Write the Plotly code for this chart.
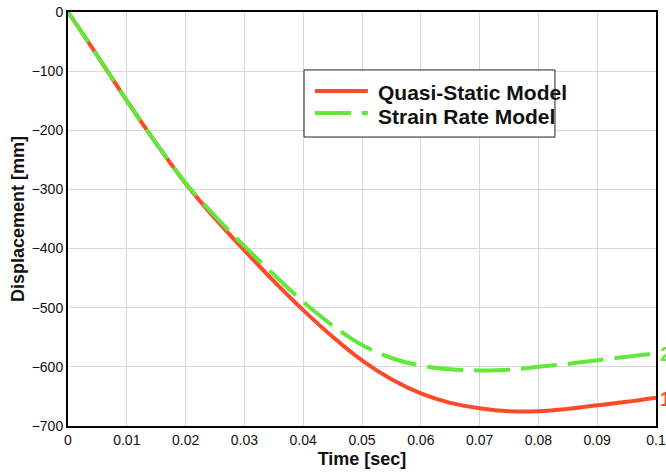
import plotly.graph_objects as go

time_s = [0, 0.005, 0.01, 0.015, 0.02, 0.025, 0.03, 0.035, 0.04, 0.045, 0.05,
          0.055, 0.06, 0.065, 0.07, 0.075, 0.08, 0.085, 0.09, 0.095, 0.1]
quasi_static = [0, -74, -150, -222, -290, -349, -403, -455, -504, -549, -589,
                -621, -645, -661, -670, -675, -675, -671, -665, -659, -652]
strain_rate = [0, -74, -150, -222, -289, -345, -396, -444, -490, -530, -563,
               -585, -598, -604, -606, -605, -600, -595, -589, -583, -577]

series_names = ["Quasi-Static Model", "Strain Rate Model"]
end_labels = ["1", "2"]

x_ticks = [0, 0.01, 0.02, 0.03, 0.04, 0.05, 0.06, 0.07, 0.08, 0.09, 0.1]
x_tick_labels = ["0", "0.01", "0.02", "0.03", "0.04", "0.05", "0.06", "0.07", "0.08", "0.09", "0.1"]
y_ticks = [0, -100, -200, -300, -400, -500, -600, -700]

RED = "#ff4a2a"
GREEN = "#62e83a"
FONT = "Liberation Sans, Arial, sans-serif"
DASH = "36px,11px"

fig = go.Figure()
fig.add_trace(go.Scatter(x=time_s, y=quasi_static, mode="lines", name=series_names[0],
                         showlegend=False,
                         line=dict(color=RED, width=4, shape="spline")))
fig.add_trace(go.Scatter(x=time_s, y=strain_rate, mode="lines", name=series_names[1],
                         showlegend=False,
                         line=dict(color=GREEN, width=4, dash=DASH, shape="spline")))

# end-of-curve labels
fig.add_annotation(x=time_s[-1], y=quasi_static[-1], text="<b>" + end_labels[0] + "</b>",
                   showarrow=False, xanchor="left", xshift=2, yshift=-1,
                   font=dict(family=FONT, size=20, color=RED))
fig.add_annotation(x=time_s[-1], y=strain_rate[-1], text="<b>" + end_labels[1] + "</b>",
                   showarrow=False, xanchor="left", xshift=2, yshift=-1,
                   font=dict(family=FONT, size=20, color=GREEN))

# manual legend (paper coordinates)
fig.add_shape(type="rect", xref="paper", yref="paper", x0=0.4014, x1=0.8282, y0=0.698, y1=0.860,
              line=dict(color="#222", width=1), fillcolor="white", layer="above")
fig.add_shape(type="line", xref="paper", yref="paper", x0=0.420, x1=0.510, y0=0.809, y1=0.809,
              line=dict(color=RED, width=4), layer="above")
fig.add_shape(type="line", xref="paper", yref="paper", x0=0.420, x1=0.510, y0=0.756, y1=0.756,
              line=dict(color=GREEN, width=4, dash=DASH), layer="above")
fig.add_annotation(xref="paper", yref="paper", x=0.524, y=0.806, text="<b>" + series_names[0] + "</b>",
                   showarrow=False, xanchor="left", yanchor="middle",
                   font=dict(family=FONT, size=21, color="#111"))
fig.add_annotation(xref="paper", yref="paper", x=0.524, y=0.748, text="<b>" + series_names[1] + "</b>",
                   showarrow=False, xanchor="left", yanchor="middle",
                   font=dict(family=FONT, size=21, color="#111"))

fig.update_layout(
    width=666, height=473,
    margin=dict(l=68, r=10, t=12, b=47),
    paper_bgcolor="white", plot_bgcolor="white",
    font=dict(family=FONT, size=14, color="#111"),
    showlegend=False,
    xaxis=dict(range=[0, 0.1], tickvals=x_ticks, ticktext=x_tick_labels,
               automargin=False,
               showgrid=True, gridcolor="#d9d9d9", gridwidth=1,
               showline=True, linecolor="black", linewidth=2, mirror=True,
               ticks="", zeroline=False,
               title=dict(text="<b>Time [sec]</b>", font=dict(family=FONT, size=18), standoff=6)),
    yaxis=dict(range=[-700, 0], tickvals=y_ticks,
               automargin=False,
               showgrid=True, gridcolor="#d9d9d9", gridwidth=1,
               showline=True, linecolor="black", linewidth=2, mirror=True,
               ticks="", zeroline=False,
               title=dict(text="<b>Displacement [mm]</b>", font=dict(family=FONT, size=18), standoff=2)),
)

fig.write_html("out.html")
